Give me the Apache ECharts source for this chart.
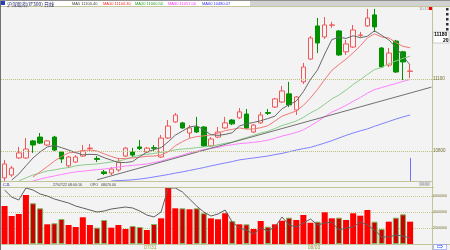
<!DOCTYPE html>
<html><head><meta charset="utf-8">
<script src="https://cdn.jsdelivr.net/npm/echarts@6/dist/echarts.min.js"></script>
<style>html,body{margin:0;padding:0;background:#f3f3f3}#c{width:450px;height:250px}</style>
</head><body><div id="c"></div>
<script>
// ---- data ----
const opens  = [10688,10700,10771,10771,10842,10858,10825,10858,10796,10738,10754,10779,10810,10769,10713,10708,10721,10779,10796,10817,10796,10814,10775,10854,10921,10917,10875,10900,10900,10821,10858,10896,10929,10938,10954,10879,10917,10960,10983,11004,11038,10971,11088,11183,11321,11275,11324,11300,11213,11233,11282,11321,11367,11229,11158,11258,11213,11132];
const closes = [10746,10729,10792,10808,10825,10833,10842,10804,10767,10775,10775,10800,10812,10765,10706,10725,10754,10812,10783,10810,10812,10811,10854,10904,10950,10896,10896,10879,10821,10850,10879,10917,10913,10963,10896,10908,10950,10957,11017,11050,10992,11025,11150,11271,11250,11325,11325,11200,11246,11304,11283,11354,11317,11150,11208,11129,11171,11133];
const lows   = [10675,10692,10767,10767,10792,10829,10821,10800,10750,10729,10750,10775,10796,10754,10700,10700,10713,10775,10775,10804,10792,10796,10771,10850,10917,10892,10854,10875,10817,10817,10854,10892,10908,10933,10892,10875,10913,10950,10979,11000,10983,10950,11079,11179,11208,11267,11313,11196,11200,11229,11275,11317,11296,11146,11150,11125,11096,11104];
const highs  = [10763,10738,10817,10854,10846,10875,10846,10863,10800,10779,10783,10825,10829,10779,10721,10733,10771,10817,10813,10846,10817,10825,10867,10929,10958,10921,10908,10942,10904,10858,10900,10942,10933,10979,10975,10913,10963,10975,11021,11071,11088,11029,11167,11279,11354,11358,11338,11304,11263,11325,11296,11392,11392,11233,11229,11263,11217,11158];

const ma5  = [null,10679,10704,10738,10771,10796,10817,10823,10814,10804,10793,10784,10786,10785,10772,10762,10752,10752,10756,10777,10795,10806,10814,10838,10866,10883,10900,10905,10888,10868,10865,10869,10876,10904,10913,10919,10926,10935,10945,10976,10993,11008,11047,11098,11138,11204,11264,11274,11269,11280,11272,11278,11301,11282,11263,11232,11195,11158];
const ma10 = [null,null,null,null,10692,10713,10735,10758,10777,10792,10795,10802,10804,10800,10788,10777,10768,10769,10771,10774,10778,10779,10783,10797,10822,10839,10853,10860,10863,10867,10874,10885,10890,10896,10891,10892,10897,10905,10925,10945,10956,10967,10990,11021,11057,11098,11136,11160,11183,11209,11238,11271,11288,11275,11271,11252,11236,11230];
const ma20 = [null,null,10675,10688,10700,10708,10717,10721,10727,10731,10738,10742,10744,10746,10750,10754,10758,10765,10775,10783,10786,10790,10794,10798,10805,10808,10810,10814,10817,10820,10826,10832,10837,10847,10856,10865,10875,10882,10894,10906,10915,10925,10940,10959,10974,10995,11017,11033,11054,11077,11097,11119,11139,11148,11164,11175,11186,11195];
const ma30 = [null,null,null,null,10675,10683,10690,10696,10702,10708,10713,10716,10719,10722,10725,10729,10733,10737,10740,10743,10746,10752,10758,10767,10775,10783,10792,10799,10806,10811,10815,10822,10826,10831,10833,10836,10840,10845,10853,10862,10869,10877,10888,10905,10923,10943,10962,10975,10990,11007,11023,11041,11056,11064,11073,11081,11090,11098];
const ma60 = [null,null,null,null,null,null,null,null,null,null,null,null,null,null,null,10675,10677,10678,10680,10683,10687,10692,10697,10702,10708,10713,10719,10725,10731,10738,10744,10750,10756,10763,10767,10771,10775,10779,10785,10790,10797,10804,10810,10815,10824,10833,10843,10854,10865,10875,10884,10892,10903,10913,10923,10933,10942,10950];

const trendIdx = [13, 60];
const trendVal = [10680, 11066];

const volumes = [4750000,3500000,3750000,6125000,5090000,4460000,2460000,2590000,3125000,2375000,2125000,3340000,2375000,2040000,3000000,2040000,2375000,1875000,2250000,2125000,1750000,2500000,3210000,7040000,4460000,4460000,4340000,4460000,3840000,3210000,3090000,3840000,2875000,2460000,2460000,1875000,2875000,2160000,2460000,2910000,3290000,3000000,3625000,2660000,2790000,3960000,3210000,3290000,3000000,3840000,3540000,4250000,2790000,1875000,2790000,3290000,3710000,2790000];
const volLine = [6750000,5875000,5500000,7000000,6750000,6250000,6000000,5625000,5375000,5125000,4750000,4500000,4250000,4000000,4125000,4375000,4500000,4625000,4500000,4125000,3625000,3375000,4000000,7000000,7000000,6500000,5625000,4750000,4000000,3500000,3750000,4250000,2750000,2000000,1750000,1250000,2000000,1625000,2125000,3375000,2375000,2125000,2625000,3125000,2375000,2625000,2750000,1750000,2000000,2125000,2750000,2375000,1750000,875000,875000,1125000,1000000,750000];

const priceTicks = [10800, 11100];
const volTicks = [2000000, 4000000, 6000000];
const dateTickIdx = [20, 43];
const dateTickText = ['07/31', '08/03'];
const cursorIdx = 57;

const headerItems = [
  {t:'MA5 11100.40', c:'#404040', x:72},
  {t:'MA10 11104.30', c:'#ff2020', x:103},
  {t:'MA20 11000.50', c:'#20a020', x:135},
  {t:'MA30 11057.00', c:'#ff30ff', x:168},
  {t:'MA60 10480.07', c:'#3030ff', x:202}
];

// ---- build ----
const slots = 61;
const categories = Array.from({length: slots}, (_, i) => String(i));
const candleData = opens.map((o, i) => [o, closes[i], lows[i], highs[i]]);
const trendData = categories.map((_, i) => { const k = trendIdx.indexOf(i); return k >= 0 ? trendVal[k] : null; });
const upVol = {color:'#ff0000'};
const downVol = {color:'#cc0000', borderColor:'#86b060', borderWidth:1};
const volData = volumes.map((v, i) => ({value: v, itemStyle: closes[i] >= opens[i] ? upVol : downVol}));

const frame = '#c4c49a';
const F = '"Liberation Sans", sans-serif';
function txt(t, x, y, fill, size, weight) {
  return {type:'text', z:60, style:{text:t, x:x, y:y, fill:fill, font: (weight ? weight + ' ' : '') + size + 'px ' + F, verticalAlign:'middle'}};
}
function line(x1, y1, x2, y2, c) {
  return {type:'line', z:55, shape:{x1:x1, y1:y1, x2:x2, y2:y2}, style:{stroke:c || frame, lineWidth:1}};
}

const graphic = [
  {type:'rect', z:-5, shape:{x:0, y:0, width:450, height:6}, style:{fill:'#ffffff'}},
  {type:'rect', z:-5, shape:{x:250, y:0, width:200, height:6}, style:{fill:'#d2d2d2'}},
  line(0, 6.5, 450, 6.5),
  line(0, 181.5, 432, 181.5),
  line(0, 187.5, 432, 187.5),
  line(0, 244.5, 450, 244.5),
  line(432.5, 6, 432.5, 250),
  line(0.5, 0, 0.5, 250, '#707070'),
  line(0, 0.5, 450, 0.5, '#909090'),
  {type:'rect', z:58, shape:{x:1, y:1, width:4, height:4}, style:{fill:'#2040c0'}},
  {type:'text', z:60, style:{text:'沪深股指(IF300) 日线', x:7, y:3.6, fill:'#202060', font:'5px "Noto Sans CJK SC", sans-serif', verticalAlign:'middle'}},
  ...headerItems.map(h => txt(h.t, h.x, 3.6, h.c, 4)),
  txt('10:13', 419, 8.5, '#888888', 4),
  {type:'rect', z:58, shape:{x:429, y:7, width:3, height:3}, style:{fill:'#ff0000'}},
  ...[8, 13, 18, 23, 28].map(y => ({type:'rect', z:58, shape:{x:446, y:y, width:2.5, height:2.5}, style:{fill:'#303030'}})),
  {type:'rect', z:58, shape:{x:433, y:32, width:16, height:11}, style:{fill:'#ffffff', stroke:'#a0a0a0', lineWidth:0.5}},
  txt('11180', 434, 35, '#000000', 5, 'bold'),
  {type:'text', z:60, style:{text:'20', x:448.5, y:40.5, fill:'#000', font:'bold 5px ' + F, verticalAlign:'middle', align:'right'}},
  txt('CJL', 3, 184.5, '#2020a0', 4),
  txt('27/07/22 08:00:16', 53, 184.5, '#404040', 3.6),
  txt('OPO', 90, 184.5, '#404040', 3.6),
  txt('08070.00', 101, 184.5, '#404040', 3.6),
  {type:'rect', z:58, shape:{x:419.5, y:181.5, width:10, height:4}, style:{fill:'#e0e0e0', stroke:'#b0b0b0', lineWidth:0.5}},
  txt('00:00', 420.5, 183.7, '#808080', 3.2),
  {type:'rect', z:58, shape:{x:433.5, y:244.5, width:13, height:5}, style:{fill:'#ffffff', stroke:'#6070ff', lineWidth:0.5}},
  {type:'text', z:60, style:{text:'⇨', x:440, y:247, fill:'#3050ff', font:'8px "DejaVu Sans"', verticalAlign:'middle', align:'center'}}
];

const chart = echarts.init(document.getElementById('c'), null, {renderer:'canvas'});
chart.setOption({
  backgroundColor: '#f3f3f3',
  animation: false,
  graphic: graphic,
  grid: [
    {left:1, top:6, width:434, height:175, show:false},
    {left:1, top:187, width:434, height:57, show:false}
  ],
  xAxis: [
    {type:'category', gridIndex:0, data:categories, boundaryGap:true,
     axisLine:{show:false}, axisTick:{show:false}, axisLabel:{show:false}, splitLine:{show:false}},
    {type:'category', gridIndex:1, data:categories, boundaryGap:true,
     axisLine:{show:false}, axisTick:{show:false}, splitLine:{show:false},
     axisLabel:{interval:0, margin:1, fontSize:5, fontFamily:'Liberation Sans', color:'#a0a040', padding:[0,0,0,7],
       formatter:(v, i) => { const k = dateTickIdx.indexOf(i); return k >= 0 ? dateTickText[k] : ''; }}}
  ],
  yAxis: [
    {type:'value', gridIndex:0, position:'right', min:10675, max:11404, interval:25, scale:true,
     axisLine:{show:false}, axisTick:{show:false}, splitLine:{show:false},
     axisLabel:{margin:-2, fontSize:4.5, fontFamily:'Liberation Sans', color:'#707030',
       formatter:v => priceTicks.includes(Math.round(v)) ? String(Math.round(v)) : ''}},
    {type:'value', gridIndex:1, position:'right', min:0, max:7125000, interval:2000000,
     axisLine:{show:false}, axisTick:{show:false},
     splitLine:{show:true, lineStyle:{color:'#c8c890', type:[1,1], width:1}},
     axisLabel:{margin:-2, fontSize:3.6, fontFamily:'Liberation Sans', color:'#707030',
       formatter:v => volTicks.includes(v) ? String(v) : ''}}
  ],
  series: [
    {name:'MA60', type:'line', xAxisIndex:0, yAxisIndex:0, data:ma60, showSymbol:false, lineStyle:{color:'#8080ff', width:1}, itemStyle:{color:'#8080ff'},
     markLine:{silent:true, symbol:['none','none'], label:{show:false}, lineStyle:{color:'#7070ff', type:'solid', width:1},
       data:[[{coord:[categories[cursorIdx], 10771]}, {coord:[categories[cursorIdx], 10675]}]]}},
    {name:'MA30', type:'line', data:ma30, showSymbol:false, lineStyle:{color:'#ff80ff', width:1}},
    {name:'MA20', type:'line', data:ma20, showSymbol:false, lineStyle:{color:'#8ccc8c', width:1}},
    {name:'trend', type:'line', data:trendData, connectNulls:true, showSymbol:false, lineStyle:{color:'#707070', width:1}},
    {name:'MA10', type:'line', data:ma10, showSymbol:false, lineStyle:{color:'#f07878', width:1}},
    {name:'MA5', type:'line', data:ma5, showSymbol:false, lineStyle:{color:'#686868', width:1}},
    {name:'K', type:'candlestick', xAxisIndex:0, yAxisIndex:0, data:candleData, barWidth:5,
     itemStyle:{color:'#f3f3f3', color0:'#009000', borderColor:'#f05858', borderColor0:'#009000', borderWidth:1},
     markLine:{silent:true, symbol:['none','none'], label:{show:false}, lineStyle:{color:'#c0c080', type:[1,1], width:1},
       data: priceTicks.map(v => ({yAxis:v}))}},
    {name:'VOL', type:'bar', xAxisIndex:1, yAxisIndex:1, data:volData, barWidth:6},
    {name:'VOLMA', type:'line', xAxisIndex:1, yAxisIndex:1, data:volLine, showSymbol:false, lineStyle:{color:'#606060', width:1}}
  ]
});
</script></body></html>
